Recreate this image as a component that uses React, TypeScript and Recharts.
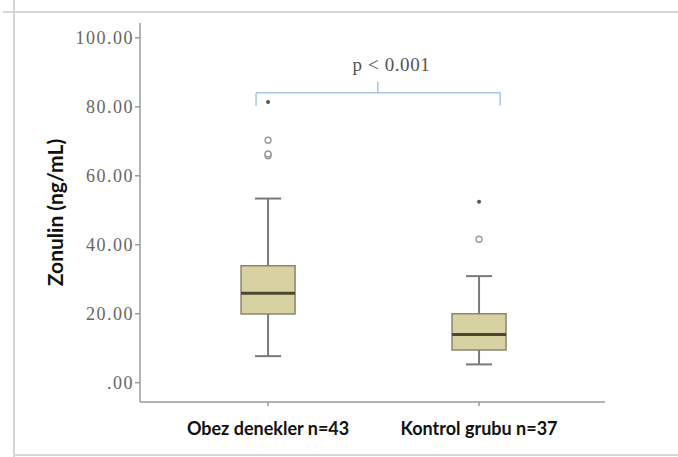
import React from 'react';
import {
  ComposedChart,
  XAxis,
  YAxis,
  Scatter,
  ReferenceArea,
  ReferenceLine,
  ReferenceDot,
} from 'recharts';

// ---- data ----
const categories = ['Obez denekler n=43', 'Kontrol grubu n=37'];
const positions = [1, 2];
const whiskerLow = [7.7, 5.3];
const q1 = [19.9, 9.5];
const median = [25.9, 14.0];
const q3 = [33.9, 20.0];
const whiskerHigh = [53.4, 30.9];
const outlierGroup = [1, 1, 1, 1, 2, 2];
const outlierValue = [81.4, 70.3, 65.8, 66.3, 52.5, 41.6];
const outlierKind = ['extreme', 'circle', 'circle', 'circle', 'extreme', 'circle'];
const yTicks = [0, 20, 40, 60, 80, 100];
const pLabel = 'p < 0.001';
const yLabel = 'Zonulin (ng/mL)';

const outliers = outlierValue.map((v, i) => ({
  x: positions[outlierGroup[i] - 1],
  y: v,
  kind: outlierKind[i],
}));

const BOX_HALF = 0.128;
const CAP_HALF = 0.062;

const boxFill = '#d8d1a1';
const boxStroke = '#8a8672';
const medianColor = '#4b4730';
const whiskerColor = '#7a7a7a';
const bracketColor = '#a8c6e2';
const axisColor = '#9a9a9a';

const OutlierShape = (props: any) => {
  const { cx, cy, payload } = props;
  if (cx == null || cy == null) return null;
  if (payload.kind === 'extreme') {
    return <circle cx={cx} cy={cy} r={2} fill="#555" />;
  }
  return <circle cx={cx} cy={cy} r={3} fill="#fff" stroke="#999" strokeWidth={1.4} />;
};

const fmt = (v: number) => (v === 0 ? '.00' : v.toFixed(2));
const xFmt = (v: number) => {
  const i = positions.indexOf(v);
  return i >= 0 ? categories[i] : '';
};

export default function App() {
  return (
    <div style={{ position: 'absolute', left: 0, top: 0, width: 678, height: 457, background: '#fff' }}>
      <div style={{ position: 'absolute', left: 3, top: 11, width: 675, height: 2, background: '#d6d6d6' }} />
      <div style={{ position: 'absolute', left: 13, top: 0, width: 2, height: 457, background: '#d6d6d6' }} />
      <div style={{ position: 'absolute', left: 13, top: 454, width: 665, height: 2, background: '#d6d6d6' }} />
      <div style={{ position: 'absolute', left: 0, top: 0 }}>
        <ComposedChart
          width={678}
          height={457}
          margin={{ top: 23, right: 73, left: 40, bottom: 25 }}
        >
          <XAxis
            type="number"
            dataKey="x"
            domain={[0.393, 2.597]}
            ticks={positions}
            tickFormatter={xFmt}
            allowDataOverflow
            height={30}
            stroke={axisColor}
            strokeWidth={1.5}
            tickSize={4}
            tickMargin={16}
            tick={{ fill: '#111', fontFamily: 'Lato', fontWeight: 700, fontSize: 18 }}
          />
          <YAxis
            type="number"
            dataKey="y"
            domain={[-5.6, 104.3]}
            ticks={yTicks}
            tickFormatter={fmt}
            allowDataOverflow
            width={100}
            stroke={axisColor}
            strokeWidth={1.5}
            tickSize={5}
            tickMargin={1}
            tick={{ fill: '#666', fontFamily: 'Liberation Serif', fontSize: 18, letterSpacing: 1.5 }}
            label={{
              value: yLabel,
              angle: -90,
              position: 'insideLeft',
              offset: 16,
              style: {
                textAnchor: 'middle',
                fill: '#111',
                fontFamily: 'Lato',
                fontWeight: 700,
                fontSize: 21,
              },
            }}
          />
          {positions.map((p, i) => (
            <ReferenceLine
              key={'wl' + i}
              segment={[{ x: p, y: whiskerLow[i] }, { x: p, y: q1[i] }]}
              stroke={whiskerColor}
              strokeWidth={2}
            />
          ))}
          {positions.map((p, i) => (
            <ReferenceLine
              key={'wh' + i}
              segment={[{ x: p, y: q3[i] }, { x: p, y: whiskerHigh[i] }]}
              stroke={whiskerColor}
              strokeWidth={2}
            />
          ))}
          {positions.map((p, i) => (
            <ReferenceLine
              key={'cl' + i}
              segment={[{ x: p - CAP_HALF, y: whiskerLow[i] }, { x: p + CAP_HALF, y: whiskerLow[i] }]}
              stroke={whiskerColor}
              strokeWidth={2}
            />
          ))}
          {positions.map((p, i) => (
            <ReferenceLine
              key={'ch' + i}
              segment={[{ x: p - CAP_HALF, y: whiskerHigh[i] }, { x: p + CAP_HALF, y: whiskerHigh[i] }]}
              stroke={whiskerColor}
              strokeWidth={2}
            />
          ))}
          {positions.map((p, i) => (
            <ReferenceArea
              key={'box' + i}
              x1={p - BOX_HALF}
              x2={p + BOX_HALF}
              y1={q1[i]}
              y2={q3[i]}
              fill={boxFill}
              fillOpacity={1}
              stroke={boxStroke}
              strokeWidth={1.5}
            />
          ))}
          {positions.map((p, i) => (
            <ReferenceLine
              key={'md' + i}
              segment={[{ x: p - BOX_HALF, y: median[i] }, { x: p + BOX_HALF, y: median[i] }]}
              stroke={medianColor}
              strokeWidth={3}
            />
          ))}
          <ReferenceLine
            segment={[{ x: 0.943, y: 80.3 }, { x: 0.943, y: 84.06 }]}
            stroke={bracketColor}
            strokeWidth={1.5}
          />
          <ReferenceLine
            segment={[{ x: 0.943, y: 84.06 }, { x: 2.1, y: 84.06 }]}
            stroke={bracketColor}
            strokeWidth={1.5}
          />
          <ReferenceLine
            segment={[{ x: 2.1, y: 80.3 }, { x: 2.1, y: 84.06 }]}
            stroke={bracketColor}
            strokeWidth={1.5}
          />
          <ReferenceLine
            segment={[{ x: 1.52, y: 84.06 }, { x: 1.52, y: 87.3 }]}
            stroke={bracketColor}
            strokeWidth={1.5}
          />
          <ReferenceDot
            x={1.585}
            y={92.2}
            r={0}
            fill="none"
            stroke="none"
            label={{
              value: pLabel,
              position: 'center',
              fill: '#555',
              fontFamily: 'Liberation Serif',
              fontSize: 19,
              letterSpacing: 0.6,
            }}
          />
          <Scatter
            data={outliers}
            dataKey="y"
            shape={<OutlierShape />}
            isAnimationActive={false}
          />
        </ComposedChart>
      </div>
    </div>
  );
}
